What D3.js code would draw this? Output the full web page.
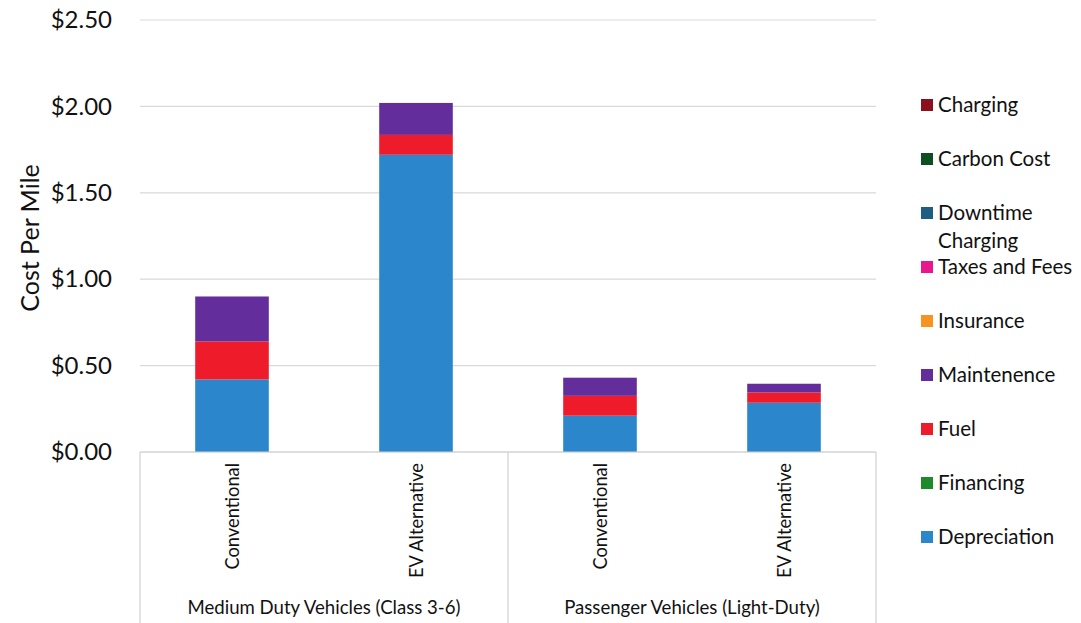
<!DOCTYPE html>
<html>
<head>
<meta charset="utf-8">
<script src="https://cdn.jsdelivr.net/npm/d3@7"></script>
<style>
  html, body { margin: 0; padding: 0; background: #fff; }
  svg { display: block; font-family: Lato, "Open Sans", sans-serif; }
</style>
</head>
<body>
<svg id="chart" width="1081" height="623"></svg>
<script>
// Vehicle groups and the two options compared inside each
const groups = ["Medium Duty Vehicles (Class 3-6)", "Passenger Vehicles (Light-Duty)"];
const options = ["Conventional", "EV Alternative"];

// Cost components, bottom of the stack first
const components = ["Depreciation", "Financing", "Fuel", "Maintenence", "Insurance",
                    "Taxes and Fees", "Downtime Charging", "Carbon Cost", "Charging"];
const componentColors = ["#2b86cc", "#1e8a2c", "#ee1c2b", "#642d9c", "#f7931e",
                         "#e9168c", "#1f5e80", "#0d4f22", "#8c0f1e"];

// Cost per mile ($) for each bar: MD conventional, MD EV, LD conventional, LD EV
const depreciation     = [0.42, 1.72, 0.21, 0.285];
const financing        = [0, 0, 0, 0];
const fuel             = [0.22, 0.115, 0.115, 0.06];
const maintenence      = [0.26, 0.185, 0.105, 0.05];
const insurance        = [0, 0, 0, 0];
const taxesAndFees     = [0, 0, 0, 0];
const downtimeCharging = [0, 0, 0, 0];
const carbonCost       = [0, 0, 0, 0];
const charging         = [0, 0, 0, 0];

const yTicks = [0, 0.5, 1.0, 1.5, 2.0, 2.5];
const yTitle = "Cost Per Mile";

const seriesValues = [depreciation, financing, fuel, maintenence, insurance,
                      taxesAndFees, downtimeCharging, carbonCost, charging];

// One row per bar
const bars = [];
groups.forEach((g, gi) => options.forEach((o, oi) => {
  const idx = gi * options.length + oi;
  const row = { key: g + "|" + o, group: g, option: o };
  components.forEach((c, ci) => row[c] = seriesValues[ci][idx]);
  bars.push(row);
}));

const textColor = "#111";
const svg = d3.select("#chart");
svg.append("rect").attr("width", 1081).attr("height", 623).attr("fill", "#fff");

const plot = { left: 140, right: 876, top: 20, bottom: 452 };

const x = d3.scaleBand()
  .domain(bars.map(d => d.key))
  .range([plot.left, plot.right])
  .paddingInner(0.6)
  .paddingOuter(0.3);

const y = d3.scaleLinear().domain([0, 2.5]).range([plot.bottom, plot.top]);

// Horizontal gridlines
svg.append("g")
  .selectAll("line")
  .data(yTicks)
  .join("line")
  .attr("x1", plot.left).attr("x2", plot.right)
  .attr("y1", d => y(d)).attr("y2", d => y(d))
  .attr("stroke", "#d9d9d9").attr("stroke-width", 1.2);

// Y axis labels
const yAxis = d3.axisLeft(y)
  .tickValues(yTicks)
  .tickFormat(d3.format("$.2f"))
  .tickSize(0)
  .tickPadding(28);
const yG = svg.append("g").attr("transform", `translate(${plot.left},0)`).call(yAxis);
yG.select(".domain").remove();
yG.selectAll("text").attr("font-size", 24).attr("fill", textColor)
  .attr("font-family", "Lato, sans-serif");

svg.append("text")
  .attr("transform", `translate(39,238) rotate(-90)`)
  .attr("text-anchor", "middle")
  .attr("font-size", 25)
  .attr("fill", textColor)
  .text(yTitle);

// Stacked bars
const stack = d3.stack().keys(components);
const stacked = stack(bars);

svg.append("g")
  .selectAll("g")
  .data(stacked)
  .join("g")
  .attr("fill", (d, i) => componentColors[i])
  .selectAll("rect")
  .data(d => d.filter(s => s[1] - s[0] > 0))
  .join("rect")
  .attr("x", d => x(d.data.key))
  .attr("width", x.bandwidth())
  .attr("y", d => y(d[1]))
  .attr("height", d => y(d[0]) - y(d[1]));

// Category axis with group boxes
const axisColor = "#d0d0d0";
const ax = svg.append("g");
ax.append("line")
  .attr("x1", plot.left).attr("x2", plot.right)
  .attr("y1", plot.bottom).attr("y2", plot.bottom)
  .attr("stroke", axisColor).attr("stroke-width", 1.2);

const groupWidth = (plot.right - plot.left) / groups.length;
const separators = d3.range(groups.length + 1).map(i => plot.left + i * groupWidth);
ax.selectAll("line.sep")
  .data(separators)
  .join("line")
  .attr("class", "sep")
  .attr("x1", d => d).attr("x2", d => d)
  .attr("y1", plot.bottom).attr("y2", 623)
  .attr("stroke", axisColor).attr("stroke-width", 1.2);

// Option labels, rotated
ax.selectAll("text.opt")
  .data(bars)
  .join("text")
  .attr("class", "opt")
  .attr("transform", d => `translate(${x(d.key) + x.bandwidth() / 2 + 7},463) rotate(-90)`)
  .attr("text-anchor", "end")
  .attr("font-size", 18.3)
  .attr("fill", textColor)
  .text(d => d.option);

// Group labels
ax.selectAll("text.grp")
  .data(groups)
  .join("text")
  .attr("class", "grp")
  .attr("x", (d, i) => plot.left + (i + 0.5) * groupWidth)
  .attr("y", 614)
  .attr("text-anchor", "middle")
  .attr("font-size", 18.6)
  .attr("fill", textColor)
  .text(d => d);

// Legend, top item is the last stacked component
const legendItems = components.slice().reverse().map(name => ({
  name, color: componentColors[components.indexOf(name)]
}));
const legend = svg.append("g");
const lg = legend.selectAll("g")
  .data(legendItems)
  .join("g")
  .attr("transform", (d, i) => `translate(921,${105 + i * 54})`);
lg.append("rect")
  .attr("x", 0).attr("y", -6)
  .attr("width", 12).attr("height", 12)
  .attr("fill", d => d.color);
lg.append("text")
  .attr("font-size", 20.5)
  .attr("fill", textColor)
  .selectAll("tspan")
  .data(d => d.name === "Downtime Charging" ? ["Downtime", "Charging"] : [d.name])
  .join("tspan")
  .attr("x", 17)
  .attr("y", (d, i) => 7 + i * 28)
  .text(d => d);
</script>
</body>
</html>
